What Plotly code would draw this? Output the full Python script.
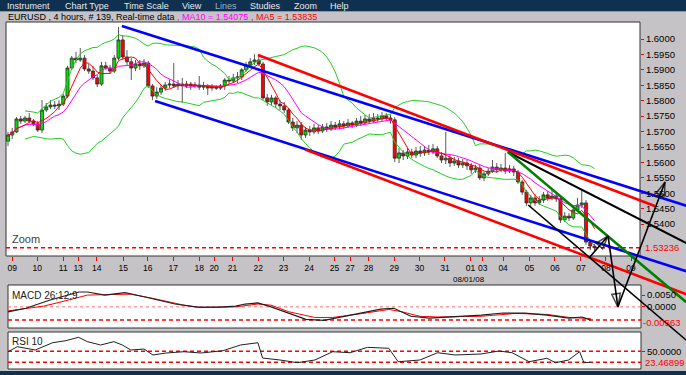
import plotly.graph_objects as go
import pandas as pd

W, H = 686, 375
FONT = "Liberation Sans, Arial, sans-serif"
GREY = "#c6c3c6"
NAVY = "#10304f"

# ---------------- data (EURUSD 4h bars, bar index 0..138) ----------------
first_open = 1.5669
close = [
    1.5689, 1.5699, 1.5741, 1.5734, 1.5744, 1.5734, 1.5725, 1.5705, 1.5770, 1.5780,
    1.5786, 1.5783, 1.5789, 1.5815, 1.5906, 1.5938, 1.5932, 1.5938, 1.5903, 1.5896,
    1.5874, 1.5854, 1.5913, 1.5906, 1.5896, 1.5938, 1.5997, 1.5942, 1.5926, 1.5906,
    1.5919, 1.5913, 1.5922, 1.5848, 1.5815, 1.5828, 1.5841, 1.5851, 1.5854, 1.5848,
    1.5854, 1.5848, 1.5854, 1.5848, 1.5851, 1.5844, 1.5848, 1.5841, 1.5844, 1.5841,
    1.5848, 1.5867, 1.5864, 1.5874, 1.5877, 1.5900, 1.5916, 1.5926, 1.5932, 1.5919,
    1.5809, 1.5796, 1.5809, 1.5789, 1.5783, 1.5770, 1.5731, 1.5712, 1.5721, 1.5689,
    1.5705, 1.5699, 1.5712, 1.5702, 1.5715, 1.5708, 1.5721, 1.5715, 1.5725, 1.5718,
    1.5728, 1.5721, 1.5734, 1.5728, 1.5741, 1.5734, 1.5744, 1.5741, 1.5751, 1.5744,
    1.5738, 1.5614, 1.5631, 1.5621, 1.5634, 1.5624, 1.5637, 1.5631, 1.5640, 1.5634,
    1.5644, 1.5621, 1.5608, 1.5614, 1.5598, 1.5605, 1.5592, 1.5598, 1.5589, 1.5576,
    1.5582, 1.5550, 1.5563, 1.5572, 1.5585, 1.5576, 1.5582, 1.5572, 1.5579, 1.5569,
    1.5537, 1.5504, 1.5469, 1.5485, 1.5469, 1.5478, 1.5495, 1.5485, 1.5491, 1.5482,
    1.5414, 1.5426, 1.5420, 1.5446, 1.5462, 1.5469, 1.5342, 1.5329, 1.53236,
]
high = [
    1.5699, 1.5712, 1.5747, 1.5751, 1.5751, 1.5760, 1.5741, 1.5734, 1.5802, 1.5793,
    1.5802, 1.5799, 1.5802, 1.5822, 1.5913, 1.5945, 1.5958, 1.5971, 1.5948, 1.5919,
    1.5913, 1.5883, 1.5926, 1.5926, 1.5916, 1.5948, 1.6039, 1.6013, 1.5964, 1.5938,
    1.5932, 1.5932, 1.5935, 1.5929, 1.5854, 1.5844, 1.5851, 1.5861, 1.5867, 1.5922,
    1.5867, 1.5874, 1.5864, 1.5861, 1.5861, 1.5880, 1.5861, 1.5854, 1.5854, 1.5851,
    1.5854, 1.5874, 1.5880, 1.5887, 1.5893, 1.5906, 1.5926, 1.5938, 1.5951, 1.5948,
    1.5926, 1.5822, 1.5819, 1.5815, 1.5802, 1.5796, 1.5776, 1.5744, 1.5734, 1.5731,
    1.5715, 1.5718, 1.5725, 1.5721, 1.5725, 1.5728, 1.5734, 1.5731, 1.5738, 1.5734,
    1.5741, 1.5734, 1.5744, 1.5751, 1.5754, 1.5757, 1.5760, 1.5757, 1.5763, 1.5760,
    1.5757, 1.5747, 1.5647, 1.5640, 1.5647, 1.5644, 1.5650, 1.5653, 1.5653, 1.5657,
    1.5660, 1.5653, 1.5634, 1.5699, 1.5624, 1.5618, 1.5614, 1.5611, 1.5608, 1.5598,
    1.5592, 1.5592, 1.5569, 1.5582, 1.5608, 1.5598, 1.5595, 1.5631, 1.5592, 1.5589,
    1.5576, 1.5543, 1.5511, 1.5495, 1.5498, 1.5491, 1.5504, 1.5507, 1.5511, 1.5504,
    1.5488, 1.5439, 1.5436, 1.5459, 1.5485, 1.5511, 1.5478, 1.5349, 1.5336,
]
low = [
    1.5653, 1.5676, 1.5695, 1.5725, 1.5728, 1.5728, 1.5718, 1.5699, 1.5695, 1.5763,
    1.5773, 1.5773, 1.5770, 1.5783, 1.5809, 1.5900, 1.5922, 1.5926, 1.5896, 1.5887,
    1.5867, 1.5844, 1.5848, 1.5900, 1.5887, 1.5890, 1.5932, 1.5932, 1.5916, 1.5867,
    1.5896, 1.5900, 1.5906, 1.5841, 1.5802, 1.5806, 1.5819, 1.5832, 1.5841, 1.5841,
    1.5835, 1.5793, 1.5841, 1.5835, 1.5841, 1.5835, 1.5835, 1.5819, 1.5832, 1.5835,
    1.5835, 1.5835, 1.5854, 1.5857, 1.5857, 1.5867, 1.5893, 1.5906, 1.5916, 1.5913,
    1.5802, 1.5783, 1.5786, 1.5776, 1.5770, 1.5760, 1.5725, 1.5702, 1.5695, 1.5673,
    1.5679, 1.5686, 1.5692, 1.5692, 1.5695, 1.5699, 1.5702, 1.5705, 1.5708, 1.5708,
    1.5712, 1.5712, 1.5715, 1.5718, 1.5721, 1.5728, 1.5728, 1.5731, 1.5734, 1.5734,
    1.5725, 1.5601, 1.5598, 1.5608, 1.5611, 1.5614, 1.5614, 1.5618, 1.5621, 1.5624,
    1.5627, 1.5614, 1.5598, 1.5595, 1.5585, 1.5589, 1.5582, 1.5582, 1.5576, 1.5563,
    1.5566, 1.5543, 1.5540, 1.5556, 1.5566, 1.5566, 1.5569, 1.5563, 1.5566, 1.5556,
    1.5530, 1.5495, 1.5459, 1.5452, 1.5459, 1.5462, 1.5469, 1.5475, 1.5478, 1.5472,
    1.5404, 1.5407, 1.5410, 1.5414, 1.5439, 1.5452, 1.5333, 1.5316, 1.5310,
]
last_price = 1.53236
ma10_label = "1.54075"
ma5_label = "1.53835"

# date ticks (position in bars, label)
day_pos = [1.0, 6.9, 13.0, 16.5, 20.9, 27.1, 32.9, 38.9, 45.0, 48.5, 52.8, 58.9, 64.8,
           70.9, 76.8, 80.5, 84.8, 90.9, 96.8, 102.8, 108.8, 111.7, 116.5, 122.7,
           128.7, 134.8, 140.7, 146.6]
day_lbl = ["09", "10", "11", "13", "14", "15", "16", "17", "18", "20", "21", "22", "23",
           "24", "25", "27", "28", "29", "30", "31", "01", "03", "04", "05",
           "06", "07", "08", "09"]
price_ticks = [1.6000, 1.5950, 1.5900, 1.5850, 1.5800, 1.5750, 1.5700, 1.5650,
               1.5600, 1.5550, 1.5500, 1.5450, 1.5400]

# hand-drawn trend lines: (bar, price)
blue_up_x, blue_up_y = [26.8, 159.6], [1.60421, 1.54600]
blue_lo_x, blue_lo_y = [34.6, 159.6], [1.57991, 1.52475]
red_up_x, red_up_y = [58.8, 152.2], [1.59482, 1.54589]
red_lo_x, red_lo_y = [69.9, 159.6], [1.56420, 1.51730]
black_up_x, black_up_y = [117.6, 159.6], [1.56339, 1.53385]
green_x, green_y = [117.6, 159.6], [1.56339, 1.51470]
black_lo_x, black_lo_y = [122.4, 159.6], [1.54621, 1.50240]
zig_x = [136.9, 141.2, 143.5, 154.6]
zig_y = [1.52936, 1.53617, 1.51316, 1.55367]

# MACD (26,12,9)
macd_x = [0, 4.2, 9.9, 16.7, 18.7, 22.8, 27.5, 32, 39.3, 44.5, 49.6, 53.6, 55.8, 58.8,
          61.9, 66.1, 70.1, 74.4, 78.4, 83.5, 87.7, 90.8, 94.8, 99.1, 105.2, 111.3,
          116.5, 121.6, 126.8, 132, 135.1, 137.1]
macd_v = [-0.0021, -0.0006, 0.0029, 0.0063, 0.0063, 0.0050, 0.0060, 0.0043, 0.0012,
          -0.0001, -0.0001, 0.0003, 0.0012, 0.0017, 0.0000, -0.0027, -0.0053, -0.0057,
          -0.0043, -0.0027, -0.0010, -0.0006, -0.0040, -0.0048, -0.0043, -0.0035,
          -0.0026, -0.0027, -0.0035, -0.0048, -0.0043, -0.00563]
signal_x = [0, 8.4, 12.5, 18.7, 28.9, 34.1, 41.4, 45.4, 53.6, 58.8, 61.9, 66.1, 72.2,
            76.4, 83.5, 89.6, 92.7, 96.9, 101.1, 111.3, 119.5, 126.8, 132, 137.1]
signal_v = [-0.0017, 0.0003, 0.0021, 0.0050, 0.0054, 0.0036, 0.0007, -0.0003, 0.0000,
            0.0012, 0.0007, -0.0021, -0.0045, -0.0045, -0.0028, -0.0011, -0.0021,
            -0.0040, -0.0043, -0.0040, -0.0028, -0.0032, -0.0045, -0.0050]
macd_levels = [0.0, -0.00563]

# RSI 10
rsi_x = [0, 2.2, 6.4, 10.5, 13.6, 16.6, 18.7, 21.8, 24.9, 26.9, 28.9, 32, 34.1, 37.2,
         41.4, 45.4, 50.6, 54.7, 58.8, 59.9, 64, 68.1, 72.2, 76.4, 80.5, 84.6, 89.6,
         91.8, 96.9, 101.1, 105.2, 111.3, 115.5, 118.6, 122.6, 126.8, 128.8, 131.9,
         134.5, 135.5, 137.1]
rsi_v = [49.0, 61.1, 53.1, 70.7, 75.6, 83.8, 73.2, 65.2, 73.2, 65.2, 53.1, 55.5, 41.1,
         45.9, 49.0, 45.9, 51.4, 65.2, 70.7, 33.8, 29.0, 22.5, 29.0, 49.0, 46.6, 59.6,
         57.2, 24.9, 29.0, 46.6, 41.1, 43.5, 50.7, 46.6, 24.9, 33.1, 22.5, 29.0, 49.0,
         22.5, 23.47]
rsi_levels = [50.0, 23.46899]

menu_items = ["Instrument", "Chart Type", "Time Scale", "View", "Lines", "Studies", "Zoom", "Help"]
menu_px = [5, 63, 122, 180, 213, 248, 292, 328]

# ---------------- derived series ----------------
bars = list(range(len(close)))
opens = [first_open] + close[:-1]
cs = pd.Series(close)
ma5 = cs.rolling(5, min_periods=1).mean()
ma10 = cs.rolling(10, min_periods=1).mean()
mid = cs.rolling(20, min_periods=5).mean()
sd = cs.rolling(20, min_periods=5).std(ddof=0)
bb_up = mid + 2 * sd
bb_lo = mid - 2 * sd

# ---------------- geometry helpers ----------------
def px(x):
    return x / W

def py(y):
    return 1 - y / H

XR = [-8 / 4.25, (W - 8) / 4.25]
YR = [1.61264 - 0.00032404 * H, 1.61264]

fig = go.Figure()

fig.add_trace(go.Candlestick(
    x=bars, open=opens, high=high, low=low, close=close,
    increasing=dict(fillcolor="#00e000", line=dict(color="#303030", width=0.8)),
    decreasing=dict(fillcolor="#ff0000", line=dict(color="#303030", width=0.8)),
    whiskerwidth=0, xaxis="x", yaxis="y", hoverinfo="skip"))

for ser in (bb_up, bb_lo):
    fig.add_trace(go.Scatter(x=bars, y=ser, mode="lines",
                             line=dict(color="#22cc22", width=1), xaxis="x", yaxis="y"))
fig.add_trace(go.Scatter(x=bars, y=ma10, mode="lines",
                         line=dict(color="#ff00ff", width=1), xaxis="x", yaxis="y"))
fig.add_trace(go.Scatter(x=bars, y=ma5, mode="lines",
                         line=dict(color="#ff0000", width=1), xaxis="x", yaxis="y"))

for xs, ys, col, wd in [
    (blue_up_x, blue_up_y, "#0000ff", 2.6),
    (blue_lo_x, blue_lo_y, "#0000ff", 2.6),
    (red_up_x, red_up_y, "#ff0000", 2.6),
    (red_lo_x, red_lo_y, "#ff0000", 2.6),
    (black_up_x, black_up_y, "#000000", 2.0),
    (black_lo_x, black_lo_y, "#000000", 1.6),
    (green_x, green_y, "#008000", 2.6),
]:
    fig.add_trace(go.Scatter(x=xs, y=ys, mode="lines", line=dict(color=col, width=wd),
                             xaxis="x", yaxis="y"))

fig.add_trace(go.Scatter(
    x=zig_x, y=zig_y, mode="lines+markers", line=dict(color="#000000", width=1.6),
    marker=dict(symbol="arrow-open", size=[0, 14, 14, 14], angleref="previous",
                color="#000000", line=dict(color="#000000", width=1.5)),
    xaxis="x", yaxis="y"))

# MACD panel
fig.add_trace(go.Scatter(x=signal_x, y=signal_v, mode="lines",
                         line=dict(color="#ff0000", width=1), xaxis="x2", yaxis="y2"))
fig.add_trace(go.Scatter(x=macd_x, y=macd_v, mode="lines",
                         line=dict(color="#202020", width=1.2), xaxis="x2", yaxis="y2"))
# RSI panel
fig.add_trace(go.Scatter(x=rsi_x, y=rsi_v, mode="lines",
                         line=dict(color="#202020", width=1), xaxis="x3", yaxis="y3"))

shapes = [
    dict(type="rect", xref="paper", yref="paper", x0=0, x1=1, y0=py(11), y1=1,
         fillcolor=NAVY, line=dict(width=0), layer="below"),
    dict(type="line", xref="paper", yref="paper", x0=0, x1=1, y0=py(11.5), y1=py(11.5),
         line=dict(color="#8898a8", width=1), layer="below"),
    dict(type="rect", xref="paper", yref="paper", x0=0, x1=1, y0=0, y1=py(371),
         fillcolor=NAVY, line=dict(width=0), layer="below"),
    dict(type="rect", xref="paper", yref="paper", x0=px(6), x1=px(640), y0=py(256), y1=py(22),
         fillcolor="white", line=dict(color="#333333", width=1), layer="below"),
    dict(type="rect", xref="paper", yref="paper", x0=px(8), x1=px(641), y0=py(328), y1=py(285),
         fillcolor="white", line=dict(color="#333333", width=1), layer="below"),
    dict(type="rect", xref="paper", yref="paper", x0=px(8), x1=px(641), y0=py(369), y1=py(332),
         fillcolor="white", line=dict(color="#333333", width=1), layer="below"),
    dict(type="line", xref="paper", yref="y", x0=px(6), x1=px(640), y0=last_price, y1=last_price,
         line=dict(color="#ff0000", width=1.5, dash="4px,3px"), layer="below"),
    dict(type="line", xref="paper", yref="y2", x0=px(8), x1=px(641), y0=macd_levels[0], y1=macd_levels[0],
         line=dict(color="#ff7070", width=1, dash="3px,3px"), layer="below"),
    dict(type="line", xref="paper", yref="y2", x0=px(8), x1=px(641), y0=macd_levels[1], y1=macd_levels[1],
         line=dict(color="#ff0000", width=1.5, dash="4px,3px"), layer="below"),
]
for lv in rsi_levels:
    shapes.append(dict(type="line", xref="paper", yref="y3", x0=px(8), x1=px(641), y0=lv, y1=lv,
                       line=dict(color="#ff0000", width=1.5, dash="4px,3px"), layer="below"))

ann = []
for name, xp in zip(menu_items, menu_px):
    ann.append(dict(text=name, x=px(xp), y=py(6.0), xref="paper", yref="paper",
                    xanchor="left", yanchor="middle", showarrow=False,
                    font=dict(size=9, color="#9fb0c0" if name == "Lines" else "#e8e8e8", family=FONT)))
ann.append(dict(
    text=("EURUSD , 4 hours, # 139, Real-time data"
          f"<span style='color:#ff00ff'> , MA10 = {ma10_label}</span>"
          f"<span style='color:#ff0000'> , MA5 = {ma5_label}</span>"),
    x=px(6), y=py(16.5), xref="paper", yref="paper", xanchor="left", yanchor="middle",
    showarrow=False, font=dict(size=9, color="#000000", family=FONT)))
ann.append(dict(text="Zoom", x=px(10), y=py(239), xref="paper", yref="paper",
                xanchor="left", yanchor="middle", showarrow=False,
                font=dict(size=11, color="#404040", family=FONT)))
ann.append(dict(text="08/01/08", x=px(469), y=py(279.5), xref="paper", yref="paper",
                xanchor="center", yanchor="middle", showarrow=False,
                font=dict(size=8, color="#000000", family=FONT)))
ann.append(dict(text="MACD 26;12;9", x=px(10), y=py(295), xref="paper", yref="paper",
                xanchor="left", yanchor="middle", showarrow=False,
                font=dict(size=10, color="#202020", family=FONT)))
ann.append(dict(text="RSI 10", x=px(10), y=py(341), xref="paper", yref="paper",
                xanchor="left", yanchor="middle", showarrow=False,
                font=dict(size=10, color="#202020", family=FONT)))
ann.append(dict(text=f"{last_price:.5f}", x=px(643), y=last_price, xref="paper", yref="y",
                xanchor="left", yanchor="middle", showarrow=False,
                font=dict(size=9.5, color="#ff0000", family=FONT)))
ann.append(dict(text=f"{macd_levels[1]:.5f}", x=px(641), y=macd_levels[1], xref="paper", yref="y2",
                xanchor="left", yanchor="middle", yshift=-2, showarrow=False,
                font=dict(size=9.5, color="#ff0000", family=FONT)))
ann.append(dict(text=f"{rsi_levels[1]:.5f}", x=px(643), y=rsi_levels[1], xref="paper", yref="y3",
                xanchor="left", yanchor="middle", showarrow=False,
                font=dict(size=9.5, color="#ff0000", family=FONT)))

tickfont = dict(size=9.5, color="#000000", family=FONT)
fig.update_layout(
    width=W, height=H, margin=dict(l=0, r=0, t=0, b=0, pad=0),
    paper_bgcolor=GREY, plot_bgcolor="rgba(0,0,0,0)", showlegend=False,
    template="none", font=dict(family=FONT),
    boxgap=0.15, boxgroupgap=0.15,
    shapes=shapes, annotations=ann,
    xaxis=dict(domain=[0, 1], range=XR, anchor="free", position=py(256), side="bottom",
               showgrid=False, zeroline=False, showline=False, ticks="outside", ticklen=4,
               tickwidth=1, tickcolor="#ff0000", tickvals=day_pos, ticktext=day_lbl,
               tickfont=dict(size=8.5, color="#000000", family=FONT),
               rangeslider=dict(visible=False), automargin=False),
    yaxis=dict(domain=[0, 1], range=YR, anchor="free", position=px(640), side="right",
               showgrid=False, zeroline=False, showline=False, ticks="outside", ticklen=3,
               tickcolor="#ff0000", tickvals=price_ticks,
               ticktext=[f"{v:.4f}" for v in price_ticks], tickfont=tickfont, automargin=False),
    xaxis2=dict(domain=[0, 1], range=XR, anchor="y2", visible=False),
    yaxis2=dict(domain=[py(328), py(285)], range=[-0.008974, 0.009274], anchor="free",
                position=px(641), side="right", showgrid=False, zeroline=False, showline=False,
                ticks="outside", ticklen=3, tickcolor="#ff0000", tickvals=[0.005, 0.0],
                ticktext=["0.0050", "0.0000"], tickfont=tickfont, automargin=False),
    xaxis3=dict(domain=[0, 1], range=XR, anchor="y3", visible=False),
    yaxis3=dict(domain=[py(369), py(332)], range=[7.31, 96.55], anchor="free",
                position=px(641), side="right", showgrid=False, zeroline=False, showline=False,
                ticks="outside", ticklen=3, tickcolor="#ff0000", tickvals=[50.0],
                ticktext=["50.0000"], tickfont=tickfont, automargin=False),
)

fig.write_html("out.html", config={"displayModeBar": False, "staticPlot": True})
